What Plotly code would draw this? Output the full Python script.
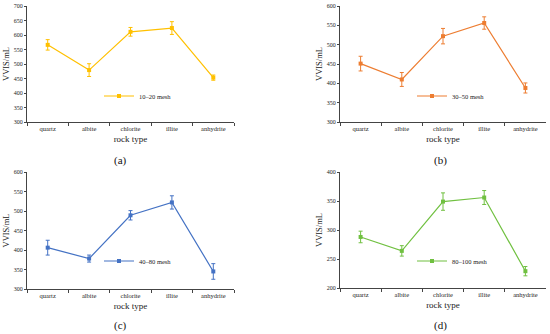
import plotly.graph_objects as go

categories = ["quartz", "albite", "chlorite", "illite", "anhydrite"]

vals_a = [566, 479, 611, 624, 453]
err_a = [18, 22, 15, 22, 9]
vals_b = [451, 410, 522, 556, 388]
err_b = [19, 18, 20, 16, 13]
vals_c = [406, 378, 489, 522, 345]
err_c = [19, 9, 12, 17, 20]
vals_d = [288, 264, 349, 356, 229]
err_d = [10, 9, 15, 12, 8]

names = ["10–20 mesh", "30–50 mesh", "40–80 mesh", "80–100 mesh"]
colors = ["#FFC000", "#ED7D31", "#4472C4", "#70C040"]
yranges = [[300, 700], [300, 600], [300, 600], [200, 400]]
ydtick = [50, 50, 50, 50]
panel_labels = ["(a)", "(b)", "(c)", "(d)"]

W, H = 550, 334


def px(x):
    return x / W


def py(y):
    return 1 - y / H


# pixel boxes for each plot area: (left, right, top, bottom)
boxes = [(27, 234, 6, 122), (340, 546, 6, 122), (27, 234, 172, 289), (340, 546, 172, 288)]
legend_pos = [(99, 96), (412, 96), (99, 261), (412, 261)]

FONT = "Liberation Serif"
fig = go.Figure()
series = [(vals_a, err_a), (vals_b, err_b), (vals_c, err_c), (vals_d, err_d)]

for i, ((v, e), nm, col) in enumerate(zip(series, names, colors)):
    k = "" if i == 0 else str(i + 1)
    fig.add_trace(go.Scatter(
        x=categories, y=v, name=nm, mode="lines+markers",
        line=dict(color=col, width=1.2),
        marker=dict(symbol="square", size=4, color=col),
        error_y=dict(type="data", array=e, visible=True, color=col, thickness=1, width=2),
        xaxis="x" + k, yaxis="y" + k, legend="legend" + k,
    ))
    l, r, t, b = boxes[i]
    fig.update_layout(**{
        "xaxis" + k: dict(
            domain=[px(l), px(r)], anchor="y" + k, type="category",
            range=[-0.5, 4.5], showline=True, linecolor="#444", linewidth=1,
            ticks="outside", tickson="boundaries", ticklen=3, tickcolor="#444",
            tickfont=dict(family=FONT, size=6.5, color="#222"),
            title=dict(text="rock type", font=dict(family=FONT, size=9, color="#222"), standoff=4),
            showgrid=False, zeroline=False, fixedrange=True, automargin=False,
        ),
        "yaxis" + k: dict(
            domain=[py(b), py(t)], anchor="x" + k,
            range=yranges[i], dtick=ydtick[i], showline=True, linecolor="#444", linewidth=1,
            ticks="outside", ticklen=2, tickcolor="#444", ticklabeloverflow="allow",
            tickfont=dict(family=FONT, size=6, color="#222"),
            title=dict(text="VVIS/mL", font=dict(family=FONT, size=8.5, color="#222"), standoff=2),
            showgrid=False, zeroline=False, automargin=False,
        ),
        "legend" + k: dict(
            x=px(legend_pos[i][0]), y=py(legend_pos[i][1]), xref="paper", yref="paper",
            xanchor="left", yanchor="middle", bgcolor="rgba(0,0,0,0)",
            font=dict(family=FONT, size=6.5, color="#222"), itemwidth=30,
            tracegroupgap=0,
        ),
    })
    fig.add_annotation(
        text=panel_labels[i], x=px((l + r) / 2 - 10) if i % 2 == 0 else px((l + r) / 2 - 2),
        y=py(160 if i < 2 else 325), xref="paper", yref="paper",
        showarrow=False, font=dict(family=FONT, size=11, color="#111"),
        xanchor="center", yanchor="middle",
    )

fig.update_layout(
    width=W, height=H, margin=dict(l=0, r=0, t=0, b=0),
    paper_bgcolor="white", plot_bgcolor="white", showlegend=True,
)

fig.write_html(
    "out.html",
    config={"displayModeBar": False},
    post_script="document.body.style.margin='0px';document.body.style.overflow='hidden';",
)
